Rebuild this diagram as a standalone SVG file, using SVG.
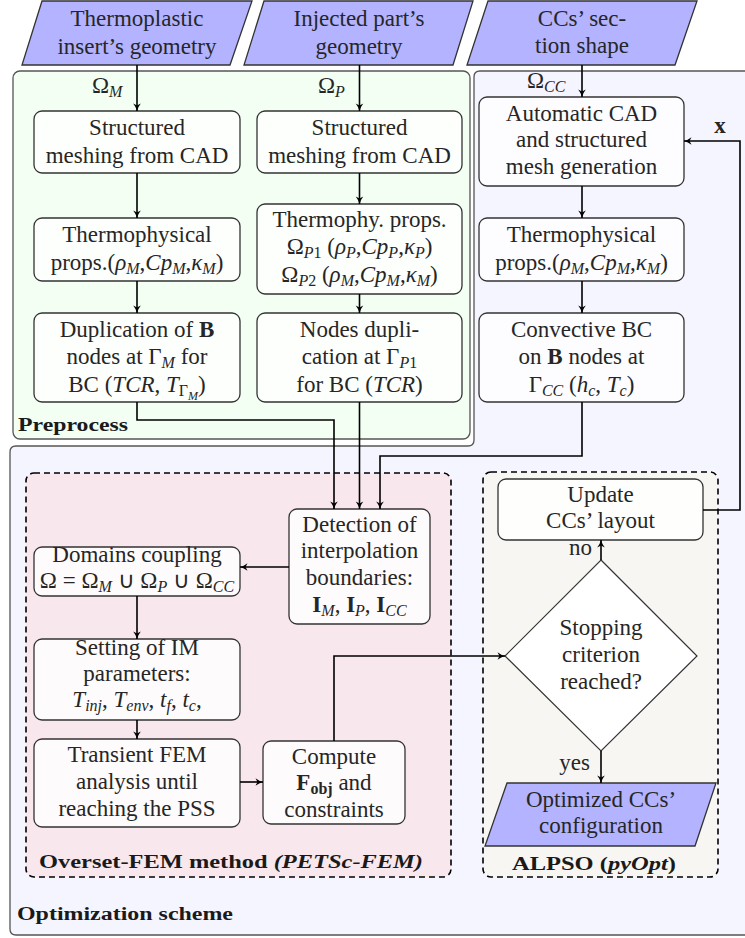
<svg xmlns="http://www.w3.org/2000/svg" width="745" height="938" viewBox="0 0 745 938">
<style>
.t{font-family:'Liberation Serif','Tinos','Times New Roman',serif;font-size:23px;fill:#262626;text-anchor:middle}
.st{text-anchor:start}
.en{text-anchor:end}
.i{font-style:italic}
.b{font-weight:bold}
.s{font-size:16px;baseline-shift:-4px}
.ss{font-size:12px;baseline-shift:-8px}
.lbl{font-family:'Liberation Serif','Tinos','Times New Roman',serif;font-size:18px;font-weight:bold;fill:#1a1a1a}
.node{fill:#ffffff;fill-opacity:0.82;stroke:#333;stroke-width:1.3}
.io{fill:#b3b3ff;stroke:#333;stroke-width:1.3}
.c{fill:none;stroke:#000;stroke-width:1.6;marker-end:url(#ah)}
</style>
<defs>
<marker id="ah" markerWidth="10" markerHeight="10" refX="8" refY="5" orient="auto" markerUnits="userSpaceOnUse">
<path d="M0.5,1.2 Q4,4 8,5 Q4,6 0.5,8.8 L2.5,5 Z" fill="#000"/>
</marker>
</defs>

<!-- containers -->
<g id="optimization-scheme">
<path d="M480,71 H760 V935 H16 Q10,935 10,929 V452 Q10,446 16,446 H468 Q474,446 474,440 V77 Q474,71 480,71 Z" fill="#f5f5ff" stroke="#555" stroke-width="1.3"/>
<text class="lbl" x="17" y="920" textLength="216" lengthAdjust="spacingAndGlyphs">Optimization scheme</text>
</g>
<g id="preprocess">
<rect x="13" y="71" width="457" height="368" rx="7" fill="#f2fff2" stroke="#555" stroke-width="1.3"/>
<text class="lbl" x="18" y="431" textLength="110" lengthAdjust="spacingAndGlyphs">Preprocess</text>
</g>
<g id="overset-fem">
<rect x="26" y="473" width="425" height="404" rx="8" fill="#f8e7ed" stroke="#000" stroke-width="1.6" stroke-dasharray="6,4"/>
<text class="lbl" x="39" y="868" textLength="384" lengthAdjust="spacingAndGlyphs">Overset-FEM method <tspan font-style="italic">(PETSc-FEM)</tspan></text>
</g>
<g id="alpso">
<rect x="483" y="472" width="235" height="405" rx="8" fill="#f7f6f2" stroke="#000" stroke-width="1.6" stroke-dasharray="6,4"/>
<text class="lbl" x="512" y="870" textLength="164" lengthAdjust="spacingAndGlyphs">ALPSO (<tspan font-style="italic">pyOpt</tspan>)</text>
</g>

<!-- inputs -->
<g id="in-insert">
<polygon class="io" points="42,1 252,1 230,65 22,65"/>
<text class="t" x="137" y="26">Thermoplastic</text>
<text class="t" x="137" y="54">insert’s geometry</text>
</g>
<g id="in-part">
<polygon class="io" points="264,1 473,1 453,65 244,65"/>
<text class="t" x="359" y="26">Injected part’s</text>
<text class="t" x="359" y="54">geometry</text>
</g>
<g id="in-cc">
<polygon class="io" points="488,1 697,1 675,65 467,65"/>
<text class="t" x="582" y="26">CCs’ sec-</text>
<text class="t" x="582" y="53">tion shape</text>
</g>

<!-- M column -->
<g id="m-mesh">
<rect class="node" x="34" y="111" width="206" height="62" rx="8"/>
<text class="t" x="137" y="135">Structured</text>
<text class="t" x="137" y="163">meshing from CAD</text>
</g>
<g id="m-props">
<rect class="node" x="34" y="218" width="206" height="63" rx="8"/>
<text class="t" x="137" y="242">Thermophysical</text>
<text class="t" x="137" y="270">props.(<tspan class="i">ρ</tspan><tspan class="s i">M</tspan>,<tspan class="i">Cp</tspan><tspan class="s i">M</tspan>,<tspan class="i">κ</tspan><tspan class="s i">M</tspan>)</text>
</g>
<g id="m-dup">
<rect class="node" x="34" y="313" width="206" height="89" rx="8"/>
<text class="t" x="137" y="337">Duplication of <tspan class="b">B</tspan></text>
<text class="t" x="137" y="364">nodes at Γ<tspan class="s i">M</tspan> for</text>
<text class="t" x="137" y="392">BC (<tspan class="i">TCR</tspan>, <tspan class="i">T</tspan><tspan class="s">Γ</tspan><tspan class="ss i">M</tspan>)</text>
</g>

<!-- P column -->
<g id="p-mesh">
<rect class="node" x="257" y="111" width="205" height="62" rx="8"/>
<text class="t" x="359.5" y="135">Structured</text>
<text class="t" x="359.5" y="163">meshing from CAD</text>
</g>
<g id="p-props">
<rect class="node" x="257" y="204" width="205" height="90" rx="8"/>
<text class="t" x="359.5" y="227">Thermophy. props.</text>
<text class="t" x="359.5" y="254">Ω<tspan class="s i">P</tspan><tspan class="s">1</tspan> (<tspan class="i">ρ</tspan><tspan class="s i">P</tspan>,<tspan class="i">Cp</tspan><tspan class="s i">P</tspan>,<tspan class="i">κ</tspan><tspan class="s i">P</tspan>)</text>
<text class="t" x="359.5" y="282">Ω<tspan class="s i">P</tspan><tspan class="s">2</tspan> (<tspan class="i">ρ</tspan><tspan class="s i">M</tspan>,<tspan class="i">Cp</tspan><tspan class="s i">M</tspan>,<tspan class="i">κ</tspan><tspan class="s i">M</tspan>)</text>
</g>
<g id="p-dup">
<rect class="node" x="257" y="313" width="205" height="89" rx="8"/>
<text class="t" x="359.5" y="337">Nodes dupli-</text>
<text class="t" x="359.5" y="364">cation at Γ<tspan class="s i">P</tspan><tspan class="s">1</tspan></text>
<text class="t" x="359.5" y="392">for BC (<tspan class="i">TCR</tspan>)</text>
</g>

<!-- CC column -->
<g id="cc-cad">
<rect class="node" x="479" y="97" width="205" height="89" rx="8"/>
<text class="t" x="581.5" y="121">Automatic CAD</text>
<text class="t" x="581.5" y="147">and structured</text>
<text class="t" x="581.5" y="174">mesh generation</text>
</g>
<g id="cc-props">
<rect class="node" x="479" y="218" width="205" height="63" rx="8"/>
<text class="t" x="581.5" y="242">Thermophysical</text>
<text class="t" x="581.5" y="270">props.(<tspan class="i">ρ</tspan><tspan class="s i">M</tspan>,<tspan class="i">Cp</tspan><tspan class="s i">M</tspan>,<tspan class="i">κ</tspan><tspan class="s i">M</tspan>)</text>
</g>
<g id="cc-bc">
<rect class="node" x="479" y="313" width="205" height="89" rx="8"/>
<text class="t" x="581.5" y="337">Convective BC</text>
<text class="t" x="581.5" y="364">on <tspan class="b">B</tspan> nodes at</text>
<text class="t" x="581.5" y="392">Γ<tspan class="s i">CC</tspan> (<tspan class="i">h</tspan><tspan class="s i">c</tspan>, <tspan class="i">T</tspan><tspan class="s i">c</tspan>)</text>
</g>

<!-- Overset-FEM nodes -->
<g id="detection">
<rect class="node" x="289" y="509" width="141" height="115" rx="8"/>
<text class="t" x="359.5" y="532">Detection of</text>
<text class="t" x="359.5" y="558">interpolation</text>
<text class="t" x="359.5" y="585">boundaries:</text>
<text class="t" x="359.5" y="612"><tspan class="b">I</tspan><tspan class="s i">M</tspan>, <tspan class="b">I</tspan><tspan class="s i">P</tspan>, <tspan class="b">I</tspan><tspan class="s i">CC</tspan></text>
</g>
<g id="coupling">
<rect class="node" x="34" y="547" width="206" height="49" rx="8"/>
<text class="t" x="137" y="562">Domains coupling</text>
<text class="t" x="137" y="588">Ω = Ω<tspan class="s i">M</tspan> ∪ Ω<tspan class="s i">P</tspan> ∪ Ω<tspan class="s i">CC</tspan></text>
</g>
<g id="im-params">
<rect class="node" x="34" y="639" width="206" height="81" rx="8"/>
<text class="t" x="137" y="655">Setting of IM</text>
<text class="t" x="137" y="681">parameters:</text>
<text class="t" x="137" y="707"><tspan class="i">T</tspan><tspan class="s i">inj</tspan>, <tspan class="i">T</tspan><tspan class="s i">env</tspan>, <tspan class="i">t</tspan><tspan class="s i">f</tspan>, <tspan class="i">t</tspan><tspan class="s i">c</tspan>,</text>
</g>
<g id="transient">
<rect class="node" x="34" y="739" width="206" height="88" rx="8"/>
<text class="t" x="137" y="762">Transient FEM</text>
<text class="t" x="137" y="789">analysis until</text>
<text class="t" x="137" y="816">reaching the PSS</text>
</g>
<g id="compute">
<rect class="node" x="263" y="741" width="142" height="83" rx="8"/>
<text class="t" x="334" y="764">Compute</text>
<text class="t" x="334" y="790"><tspan class="b">F</tspan><tspan class="s b">obj</tspan> and</text>
<text class="t" x="334" y="817">constraints</text>
</g>

<!-- ALPSO nodes -->
<g id="update">
<rect class="node" x="498" y="479" width="205" height="61" rx="8"/>
<text class="t" x="600.5" y="502">Update</text>
<text class="t" x="600.5" y="528">CCs’ layout</text>
</g>
<g id="stopping">
<polygon points="601,560 697,656 601,751 505,656" fill="#fff" stroke="#333" stroke-width="1.2"/>
<text class="t" x="601" y="635">Stopping</text>
<text class="t" x="601" y="662">criterion</text>
<text class="t" x="601" y="689">reached?</text>
</g>
<g id="out-config">
<polygon class="io" points="507,783 716,783 695,846 485,846"/>
<text class="t" x="601" y="807">Optimized CCs’</text>
<text class="t" x="601" y="833">configuration</text>
</g>

<!-- connectors -->
<g id="connectors">
<path class="c" d="M137,65 V111"/>
<path class="c" d="M137,173 V218"/>
<path class="c" d="M137,281 V313"/>
<path class="c" d="M359.5,65 V111"/>
<path class="c" d="M359.5,173 V204"/>
<path class="c" d="M359.5,294 V313"/>
<path class="c" d="M582,65 V97"/>
<path class="c" d="M582,186 V218"/>
<path class="c" d="M582,281 V313"/>
<path class="c" d="M137,402 V420 H334 V509"/>
<path class="c" d="M359.5,402 V509"/>
<path class="c" d="M582,402 V456 H380 V509"/>
<path class="c" d="M289,567 H240"/>
<path class="c" d="M137,596 V639"/>
<path class="c" d="M137,720 V739"/>
<path class="c" d="M240,782 H263"/>
<path class="c" d="M334,741 V656 H505"/>
<path class="c" d="M601,560 V540"/>
<path class="c" d="M601,751 V783"/>
<path class="c" d="M703,510 H740 V141 H684"/>
<text class="t st" x="92" y="93">Ω<tspan class="s i">M</tspan></text>
<text class="t st" x="318" y="93">Ω<tspan class="s i">P</tspan></text>
<text class="t st" x="527" y="88">Ω<tspan class="s i">CC</tspan></text>
<text class="t b" x="720" y="133">x</text>
<text class="t en" x="592" y="555">no</text>
<text class="t en" x="590" y="770">yes</text>
</g>
</svg>
